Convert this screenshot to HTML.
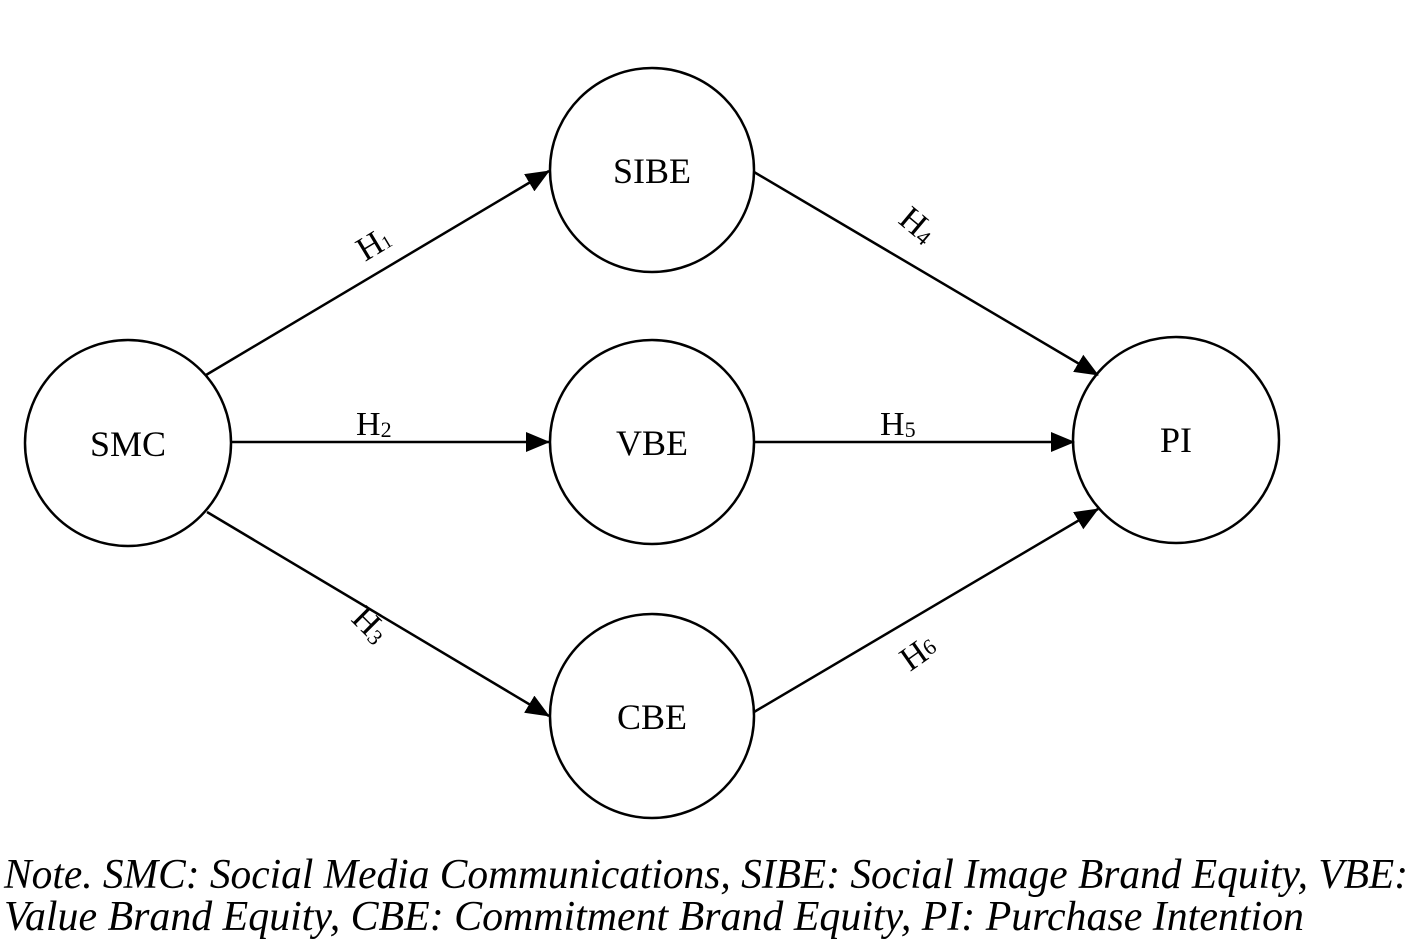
<!DOCTYPE html>
<html><head><meta charset="utf-8"><style>
html,body{margin:0;padding:0;background:#fff;}
svg{display:block;}
</style></head><body>
<svg width="1413" height="942" viewBox="0 0 1413 942" xmlns="http://www.w3.org/2000/svg">
<defs>
<marker id="a" markerWidth="24" markerHeight="20" refX="23" refY="10" orient="auto" markerUnits="userSpaceOnUse">
<path d="M0,0 L24,10 L0,20 Z" fill="#000"/>
</marker>
</defs>
<g fill="none" stroke="#000" stroke-width="2.5">
<circle cx="128" cy="443" r="103"/>
<circle cx="652" cy="170" r="102"/>
<circle cx="652" cy="442" r="102"/>
<circle cx="652" cy="716" r="102"/>
<circle cx="1176" cy="440" r="103"/>
</g>
<g stroke="#000" stroke-width="2.5" marker-end="url(#a)">
<line x1="206" y1="375" x2="549" y2="171"/>
<line x1="231" y1="442" x2="549" y2="442"/>
<line x1="207" y1="512" x2="549" y2="716"/>
<line x1="754" y1="172" x2="1098" y2="375"/>
<line x1="754" y1="442" x2="1074" y2="442"/>
<line x1="754" y1="712" x2="1098" y2="509"/>
</g>
<g font-family="Liberation Serif, serif" font-size="36" text-anchor="middle" fill="#000">
<text x="128" y="456">SMC</text>
<text x="652" y="183">SIBE</text>
<text x="652" y="455">VBE</text>
<text x="652" y="729">CBE</text>
<text x="1176" y="452">PI</text>
</g>
<g font-family="Liberation Serif, serif" font-size="34" fill="#000">
<text transform="translate(365,262) rotate(-31)">H<tspan font-size="18">1</tspan></text>
<text x="356" y="435">H<tspan font-size="22" dy="2">2</tspan></text>
<text transform="translate(350,620) rotate(45)">H<tspan font-size="22" dy="2">3</tspan></text>
<text transform="translate(897,222) rotate(40)">H<tspan font-size="22" dy="2">4</tspan></text>
<text x="880" y="435">H<tspan font-size="22" dy="2">5</tspan></text>
<text transform="translate(910,672) rotate(-35)">H<tspan font-size="22" dy="-2">6</tspan></text>
</g>
<g font-family="Liberation Serif, serif" font-style="italic" font-size="42" fill="#000">
<text x="4" y="888" textLength="1404" lengthAdjust="spacingAndGlyphs">Note. SMC: Social Media Communications, SIBE: Social Image Brand Equity, VBE:</text>
<text x="4" y="930" textLength="1300" lengthAdjust="spacingAndGlyphs">Value Brand Equity, CBE: Commitment Brand Equity, PI: Purchase Intention</text>
</g>
</svg>
</body></html>
